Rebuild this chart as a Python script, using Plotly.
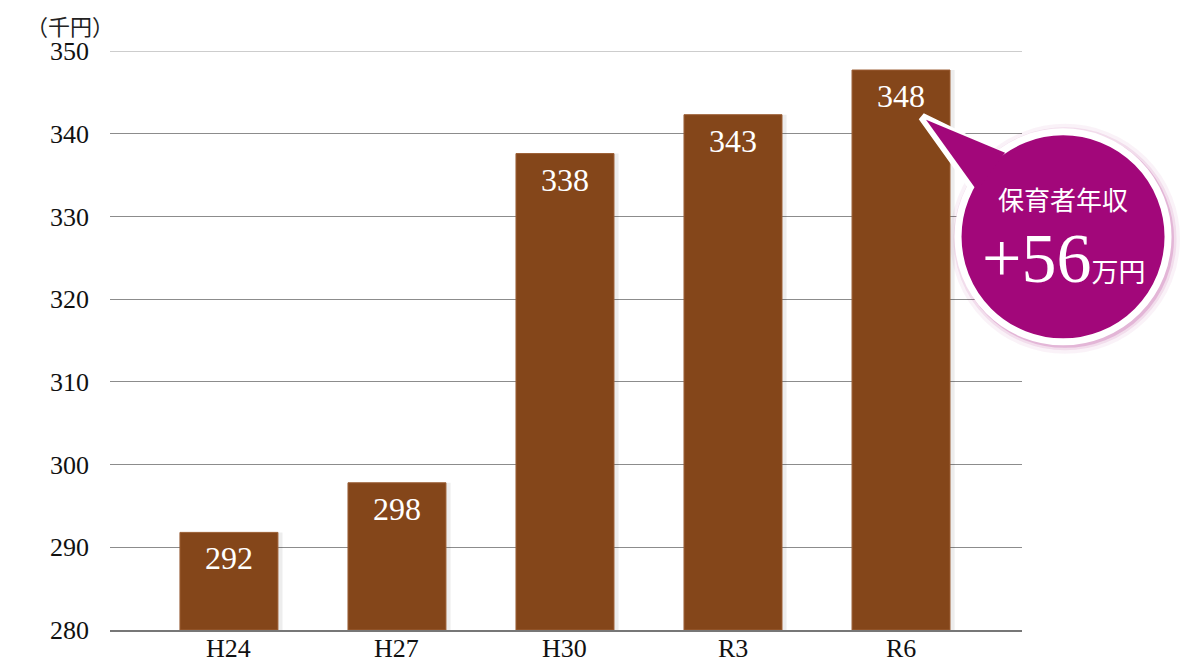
import plotly.graph_objects as go

# 保育者年収の推移（千円）
years = ['H24', 'H27', 'H30', 'R3', 'R6']
salary = [291.8, 297.8, 337.6, 342.3, 347.7]
labels = ['292', '298', '338', '343', '348']
y_ticks = [280, 290, 300, 310, 320, 330, 340, 350]

bar_color = '#84461A'
bubble_color = '#A2077A'
serif = 'Liberation Serif, Times New Roman, serif'
jp = 'Noto Sans CJK JP, sans-serif'

fig = go.Figure()

# soft shadow behind the bars
fig.add_trace(go.Bar(
    x=years, y=[v - 280 for v in salary], base=280, width=0.615,
    marker=dict(color='rgba(0,0,0,0.07)', line=dict(width=0)),
    hoverinfo='skip', offset=-0.296,
))
fig.add_trace(go.Bar(
    x=years, y=[v - 280 for v in salary], base=280, width=0.583,
    marker=dict(color=bar_color, line=dict(color='#9c5e34', width=1)),
    offset=-0.2915,
))

# value labels inside the top of each bar
for yr, v, lab in zip(years, salary, labels):
    fig.add_annotation(x=yr, y=v, text=lab, showarrow=False,
                       xanchor='center', yanchor='top', yshift=-6,
                       font=dict(family=serif, size=32, color='white'))

# category labels under the axis
for yr in years:
    fig.add_annotation(x=yr, xref='x', yref='paper', y=0, text=yr,
                       showarrow=False, xanchor='center', yanchor='top',
                       yshift=-2, font=dict(family=serif, size=26, color='#111'))

# top gridline (lighter)
fig.add_shape(type='line', xref='paper', yref='y', x0=0, x1=1, y0=350, y1=350,
              line=dict(color='#bdbdbd', width=1.5))

# unit label
fig.add_annotation(xref='paper', yref='paper', x=-0.044, y=1.0, yshift=9,
                   xanchor='center', yanchor='bottom', text='（千円）',
                   showarrow=False, borderpad=0,
                   font=dict(family=jp, size=22, color='#222'))

# speech bubble: glow, pointer, circle
cx, cy = 1.045, 0.679
for w, a in [(20, 0.05), (13, 0.09), (8, 0.18)]:
    fig.add_shape(type='circle', xref='paper', yref='paper',
                  xsizemode='pixel', ysizemode='pixel', xanchor=cx, yanchor=cy,
                  x0=-103, x1=107, y0=-107, y1=103,
                  line=dict(color=f'rgba(162,7,122,{a})', width=w),
                  fillcolor='rgba(0,0,0,0)', layer='above')
fig.add_shape(type='path', xref='paper', yref='paper',
              xsizemode='pixel', ysizemode='pixel', xanchor=cx, yanchor=cy,
              path='M -141 120 L -63 82 L -91 50 Z', fillcolor=bubble_color,
              line=dict(color='white', width=8), layer='above')
fig.add_shape(type='circle', xref='paper', yref='paper',
              xsizemode='pixel', ysizemode='pixel', xanchor=cx, yanchor=cy,
              x0=-105, x1=105, y0=-105, y1=105, fillcolor=bubble_color,
              line=dict(color='white', width=7), layer='above')
fig.add_shape(type='path', xref='paper', yref='paper',
              xsizemode='pixel', ysizemode='pixel', xanchor=cx, yanchor=cy,
              path='M -137 117 L -58 84 L -86 46 Z', fillcolor=bubble_color,
              line=dict(width=0), layer='above')

fig.add_annotation(xref='paper', yref='paper', x=cx, y=cy, yshift=38,
                   xanchor='center', yanchor='middle',
                   text='保育者年収', showarrow=False,
                   font=dict(family=jp, size=26, color='white'))
fig.add_annotation(xref='paper', yref='paper', x=cx, y=cy, yshift=-22,
                   xanchor='center', yanchor='middle',
                   text='<span style="font-family:Liberation Serif;font-size:70px">+56</span>'
                        '<span style="font-size:27px">万円</span>',
                   showarrow=False, font=dict(family=jp, size=27, color='white'))

# the page body adds an 8px offset, so the figure is sized to fit the window
fig.update_layout(
    width=1192, height=663,
    margin=dict(l=102, r=178, t=43, b=41),
    plot_bgcolor='white', paper_bgcolor='white',
    showlegend=False, barmode='overlay',
    xaxis=dict(range=[-0.708, 4.72], showgrid=False, showline=True,
               linecolor='#777', linewidth=2, ticks='', showticklabels=False,
               automargin=False, fixedrange=True),
    yaxis=dict(range=[280, 350], tickvals=y_ticks, showgrid=True,
               gridcolor='#8c8c8c', gridwidth=1, zeroline=False, showline=False,
               ticks='', ticklabelstandoff=20, automargin=False,
               tickfont=dict(family=serif, size=26, color='#111'), fixedrange=True),
)

fig.write_html('out.html')
